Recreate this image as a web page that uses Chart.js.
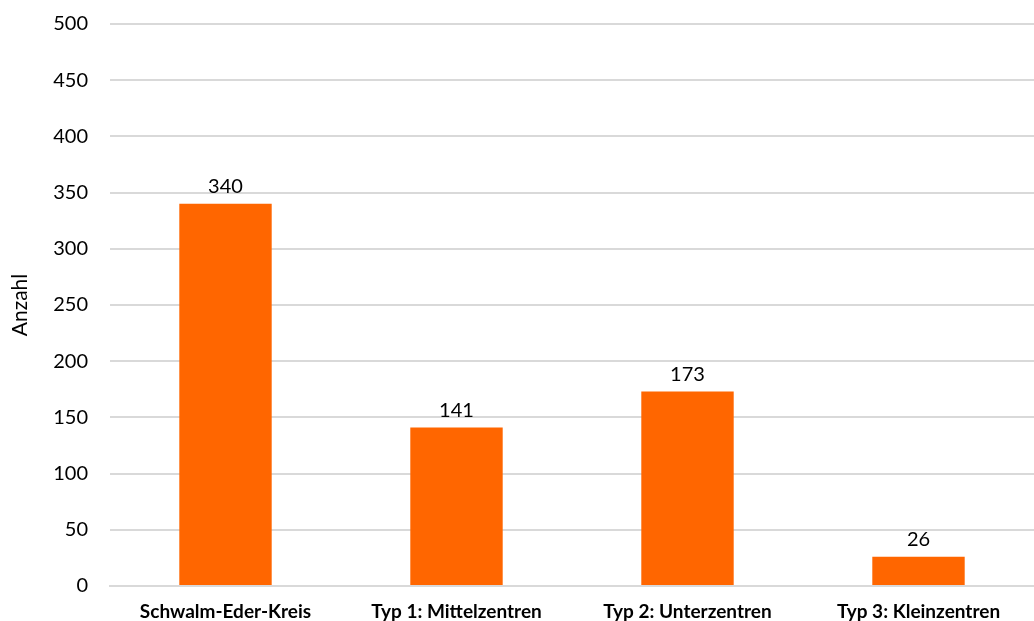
<!DOCTYPE html>
<html>
<head>
<meta charset="utf-8">
<script src="https://cdn.jsdelivr.net/npm/chart.js@4/dist/chart.umd.min.js"></script>
<style>
  html, body { margin: 0; padding: 0; background: #fff; }
  #wrap { width: 1034px; height: 621px; position: relative; }
</style>
</head>
<body>
<div id="wrap"><canvas id="chart"></canvas></div>
<script>
// Values
var categories = ['Schwalm-Eder-Kreis', 'Typ 1: Mittelzentren', 'Typ 2: Unterzentren', 'Typ 3: Kleinzentren'];
var counts = [340, 141, 173, 26];
var yMax = 500;
var yStep = 50;

var FONT = 'Lato, "Open Sans", sans-serif';

// Draws the value above each bar, like the spreadsheet data labels.
var barValueLabels = {
  id: 'barValueLabels',
  afterDatasetsDraw: function(chart) {
    var ctx = chart.ctx;
    var meta = chart.getDatasetMeta(0);
    ctx.save();
    ctx.font = '20px ' + FONT;
    ctx.fillStyle = '#000';
    ctx.textAlign = 'center';
    ctx.textBaseline = 'bottom';
    meta.data.forEach(function(bar, i) {
      ctx.fillText(String(counts[i]), bar.x, bar.y - 7);
    });
    ctx.restore();
  }
};

new Chart(document.getElementById('chart').getContext('2d'), {
  type: 'bar',
  data: {
    labels: categories,
    datasets: [{
      data: counts,
      backgroundColor: '#FF6600',
      borderWidth: 0,
      categoryPercentage: 1,
      barPercentage: 0.4
    }]
  },
  options: {
    responsive: true, maintainAspectRatio: false,
    animation: false,
    layout: { padding: 0 },
    plugins: { legend: { display: false }, tooltip: { enabled: false } },
    scales: {
      x: {
        grid: { display: false, drawTicks: false },
        border: { display: true, color: '#d9d9d9', width: 2 },
        ticks: { color: '#000', font: { family: FONT, size: 19, weight: 'bold' }, padding: 14, maxRotation: 0 },
        afterFit: function(s) { s.height = 35; }
      },
      y: {
        min: 0, max: yMax,
        ticks: { stepSize: yStep, color: '#000', font: { family: FONT, size: 20 }, padding: 22 },
        grid: { color: '#d9d9d9', lineWidth: 2, drawTicks: false },
        border: { display: false },
        title: { display: true, text: 'Anzahl', color: '#000', font: { family: FONT, size: 21 }, padding: { top: 8, bottom: 4 } },
        // tick padding also inflates the top margin; pin it to the reference's
        afterFit: function(s) { s.width = 110; s.paddingTop = 24; s.paddingBottom = 0; }
      }
    }
  },
  plugins: [barValueLabels]
});
</script>
</body>
</html>
